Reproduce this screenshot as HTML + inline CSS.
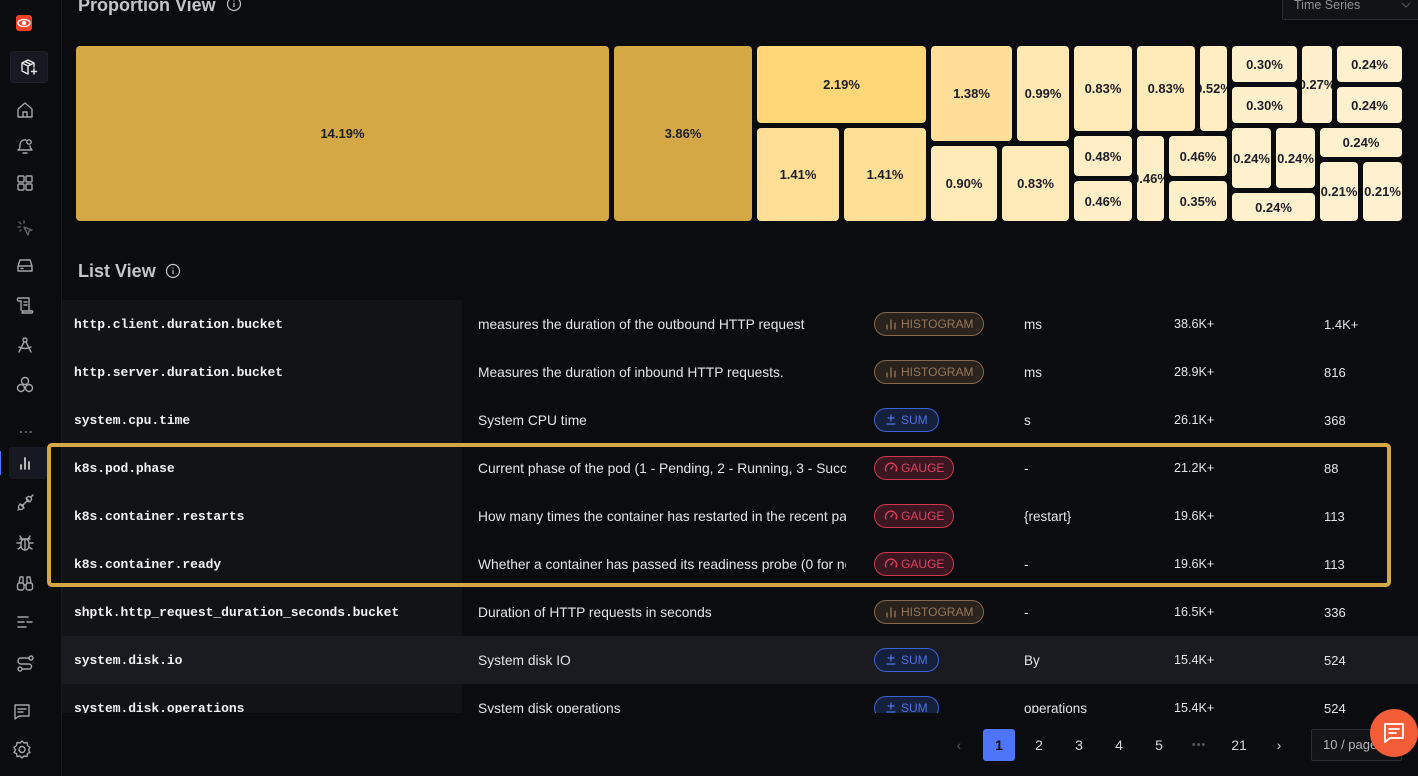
<!DOCTYPE html>
<html lang="en">
<head>
<meta charset="utf-8">
<title>Metrics Explorer</title>
<style>
*{box-sizing:border-box}
html,body{margin:0;padding:0;width:1418px;height:776px;overflow:hidden;background:#0b0c0f;font-family:"Liberation Sans",sans-serif;color:#e8e8e8}
#app{position:relative;width:1418px;height:776px;overflow:hidden}
.abs{position:absolute}
#sidebar{left:0;top:0;width:62px;height:776px;background:#0b0c0e;border-right:1px solid #191a1f}
.ic{position:absolute;width:20px;height:20px;fill:none;stroke:#a3a4a7;stroke-width:1.4;stroke-linecap:round;stroke-linejoin:round}
.sec-title{position:absolute;left:78px;font-size:18px;font-weight:700;color:#c4c5c7;white-space:nowrap;line-height:22px}
.info{position:absolute;width:16px;height:16px;fill:none;stroke:#c4c5c7;stroke-width:1.2}
#treemap{position:absolute;left:76px;top:46px;width:1331px;height:180px}
.tile{position:absolute;border-radius:4px;display:flex;align-items:center;justify-content:center;overflow:hidden;font-size:13px;font-weight:700;color:#1d1f27;white-space:nowrap}
#table{position:absolute;left:62px;top:300px;width:1356px;height:413px;overflow:hidden}
#first-col-bg{position:absolute;left:0;top:0;width:400px;height:413px;background:#121317}
.row{position:absolute;left:0;width:1356px;height:48px;font-size:13px;line-height:49px;white-space:nowrap}
.row.hover{background:#1a1b20}
.name{position:absolute;left:12px;top:0;font-family:"Liberation Mono",monospace;font-weight:700;font-size:13px;letter-spacing:-.06px;color:#f2f2f2}
.desc{position:absolute;left:416px;top:0;width:368px;overflow:hidden;color:#e4e4e4;font-size:13.8px}
.unit{position:absolute;left:962px;top:0;color:#e4e4e4;font-size:13.5px}
.samples{position:absolute;left:1112px;top:0;color:#e4e4e4;font-size:12.6px}
.series{position:absolute;left:1262px;top:0;color:#e4e4e4}
.pill{position:absolute;left:812px;top:12px;height:24px;border-radius:12px;border:1px solid;font-size:12px;line-height:22px;white-space:nowrap}
.pill svg{position:absolute;left:9px;top:4px;width:14px;height:14px;fill:none;stroke:currentColor;stroke-width:1.3;stroke-linecap:round}
.pill span{position:absolute;left:26px;top:0}
.histogram{width:110px;background:#2a231d;border-color:#86694c;color:#97775a}
.sum{width:65px;background:#15203c;border-color:#3c62d6;color:#4f73e3}
.gauge{width:80px;background:#391620;border-color:#d4354f;color:#e2405c}
#highlight{position:absolute;left:47px;top:443px;width:1344px;height:144px;border:4.5px solid #d4a945;border-radius:5px}
.pg{position:absolute;top:729px;width:32px;height:32px;line-height:32px;text-align:center;font-size:14px;color:#d8d8d8}
</style>
</head>
<body>
<div id="app">

  <div id="sidebar" class="abs">
    <div class="abs" style="left:16px;top:15px;width:16px;height:16px;border-radius:3px;background:#f2402c">
      <svg width="16" height="16" viewBox="0 0 16 16" style="display:block"><ellipse cx="8" cy="8" rx="6" ry="3.6" fill="none" stroke="#fff" stroke-width="1.4"/><circle cx="8" cy="8" r="2.2" fill="#fff"/></svg>
    </div>
    <div class="abs" style="left:10px;top:51px;width:38px;height:32px;background:#161922;border:1px solid #1e2029;border-radius:3px"></div>
    <svg class="ic" viewBox="0 0 20 20" style="left:19px;top:57px;stroke:#e8e8e8"><path d="M3 6l6-3 6 3v4M3 6v8l6 3M3 6l6 3 6-3M9 9v8M6 4.5l6 3"/><path d="M15 12v5M12.500 14.500h5"/></svg>
    <svg class="ic" viewBox="0 0 20 20" style="left:15px;top:100px"><path d="M3 9l7-6 7 6v8H3zM8 17v-5h4v5"/></svg>
    <svg class="ic" viewBox="0 0 20 20" style="left:15px;top:136px"><path d="M3 14c2-1 2-3 2-6a5 5 0 0 1 6-4M15 10c0 2 1 3 2 4H3M8 17h4"/><circle cx="14" cy="6" r="2.200"/></svg>
    <svg class="ic" viewBox="0 0 20 20" style="left:15px;top:173px"><rect x="3" y="3" width="6" height="6" rx="1"/><rect x="11" y="3" width="6" height="6" rx="1"/><rect x="3" y="11" width="6" height="6" rx="1"/><rect x="11" y="11" width="6" height="6" rx="1"/></svg>
    <svg class="ic" viewBox="0 0 20 20" style="left:15px;top:218px;stroke:#5f616b"><path d="M9 9l8 3-3 1-1 4zM4 4l2 2M9 3v2M3 9h2M5 13l1-1"/></svg>
    <svg class="ic" viewBox="0 0 20 20" style="left:15px;top:255px"><path d="M3 11l2-6h10l2 6v5H3zM3 11h14M6 13.500h2"/></svg>
    <svg class="ic" viewBox="0 0 20 20" style="left:15px;top:295px"><path d="M3 3h11v13M3 3c-1 1-1 3 1 3h2M6 6v9M14 16H7c1 1 1 2 0 2h10c1-1 1-2 0-2h-3M9 7h3M9 10h3"/></svg>
    <svg class="ic" viewBox="0 0 20 20" style="left:15px;top:335px"><circle cx="10" cy="5" r="2"/><path d="M9 7l-5 10M11 7l5 10M4 12c4 2 8 2 12 0"/></svg>
    <svg class="ic" viewBox="0 0 20 20" style="left:15px;top:375px"><circle cx="10" cy="6" r="3.500"/><circle cx="6" cy="13" r="3.500"/><circle cx="14" cy="13" r="3.500"/></svg>
    <div class="abs" style="left:19px;top:420px;color:#5f616b;font-size:14px;font-weight:700;letter-spacing:1px">...</div>
    <div class="abs" style="left:0;top:451px;width:1px;height:24px;background:#4e74f8"></div>
    <div class="abs" style="left:9px;top:447px;width:38px;height:32px;background:#161922;border-radius:3px"></div>
    <svg class="ic" viewBox="0 0 20 20" style="left:15px;top:453px;stroke:#c8c8c8;stroke-width:1.8"><path d="M6 16v-4M10 16V5M14 16V9"/></svg>
    <svg class="ic" viewBox="0 0 20 20" style="left:15px;top:493px"><circle cx="6" cy="14" r="2.500"/><circle cx="14" cy="6" r="2.500"/><path d="M8 12l4-4M3 17l1-1M16 4l2-2M5 11l4 4M11 5l4 4"/></svg>
    <svg class="ic" viewBox="0 0 20 20" style="left:15px;top:533px"><rect x="6" y="6" width="8" height="11" rx="4"/><path d="M7 6l-2-3M13 6l2-3M6 10H2M14 10h4M6 14l-3 2M14 14l3 2M10 7v10M5 6h10"/></svg>
    <svg class="ic" viewBox="0 0 20 20" style="left:15px;top:573px"><rect x="2.500" y="10" width="6.500" height="7" rx="2"/><rect x="11" y="10" width="6.500" height="7" rx="2"/><path d="M4 10l1-6h3v6M16 10l-1-6h-3v6M9 12h2"/></svg>
    <svg class="ic" viewBox="0 0 20 20" style="left:15px;top:612px"><path d="M3 5h10M3 10h6M12 10h5M3 15h8"/></svg>
    <svg class="ic" viewBox="0 0 20 20" style="left:15px;top:653px"><circle cx="16" cy="5" r="2"/><circle cx="5" cy="16" r="2"/><path d="M14 5H6a3 3 0 0 0 0 6h8a2.500 2.500 0 0 1 0 5H7"/></svg>
    <svg class="ic" viewBox="0 0 20 20" style="left:12px;top:702px"><path d="M3 3h14v11H7l-4 3zM6 7h8M6 10h5"/></svg>
    <svg class="ic" viewBox="0 0 20 20" style="left:12px;top:739px"><path d="M10 2l2 2 3-.5.500 3 2.500 2-1.500 2.500 1.500 2.500-2.500 1-.5 3-3-.5-2 2-2-2-3 .5-.5-3-2.500-1L3.500 11 2 8.500l2.500-2 .5-3 3 .5z"/><circle cx="10" cy="10.500" r="3"/></svg>
  </div>

  <div class="sec-title" style="top:-6px">Proportion View</div>
  <svg class="info" viewBox="0 0 16 16" style="left:226px;top:-4px"><circle cx="8" cy="8" r="6.500"/><path d="M8 7v4M8 4.500v1"/></svg>

  <div class="abs" style="left:1282px;top:-14px;width:140px;height:34px;background:#121317;border:1px solid #2b2d34;border-radius:2px">
    <span class="abs" style="left:11px;top:10px;font-size:12.5px;line-height:16px;color:#8f9094">Time Series</span>
    <svg class="abs" width="10" height="6" viewBox="0 0 10 6" style="left:118px;top:15px"><path d="M1 1l4 4 4-4" fill="none" stroke="#55575c" stroke-width="1"/></svg>
  </div>

  <div id="treemap"></div>

  <div class="sec-title" style="top:260px">List View</div>
  <svg class="info" viewBox="0 0 16 16" style="left:165px;top:263px"><circle cx="8" cy="8" r="6.500"/><path d="M8 7v4M8 4.500v1"/></svg>

  <div id="table">
    <div id="first-col-bg"></div>

    <div class="row" style="top:0">
      <span class="name">http.client.duration.bucket</span>
      <span class="desc">measures the duration of the outbound HTTP request</span>
      <span class="pill histogram"><svg viewBox="0 0 14 14"><path d="M3 12V8M7 12V3M11 12V6"/></svg><span>HISTOGRAM</span></span>
      <span class="unit">ms</span>
      <span class="samples">38.6K+</span>
      <span class="series">1.4K+</span>
    </div>
    <div class="row" style="top:48px">
      <span class="name">http.server.duration.bucket</span>
      <span class="desc">Measures the duration of inbound HTTP requests.</span>
      <span class="pill histogram"><svg viewBox="0 0 14 14"><path d="M3 12V8M7 12V3M11 12V6"/></svg><span>HISTOGRAM</span></span>
      <span class="unit">ms</span>
      <span class="samples">28.9K+</span>
      <span class="series">816</span>
    </div>
    <div class="row" style="top:96px">
      <span class="name">system.cpu.time</span>
      <span class="desc">System CPU time</span>
      <span class="pill sum"><svg viewBox="0 0 14 14"><path d="M7 2v6M4 5h6M3 11h8"/></svg><span>SUM</span></span>
      <span class="unit">s</span>
      <span class="samples">26.1K+</span>
      <span class="series">368</span>
    </div>
    <div class="row" style="top:144px">
      <span class="name">k8s.pod.phase</span>
      <span class="desc">Current phase of the pod (1 - Pending, 2 - Running, 3 - Succeeded, 4 - Failed, 5 - Unknown)</span>
      <span class="pill gauge"><svg viewBox="0 0 14 14"><path d="M2 10a5.500 5.500 0 1 1 10 0M7 8l2-3"/></svg><span>GAUGE</span></span>
      <span class="unit">-</span>
      <span class="samples">21.2K+</span>
      <span class="series">88</span>
    </div>
    <div class="row" style="top:192px">
      <span class="name">k8s.container.restarts</span>
      <span class="desc">How many times the container has restarted in the recent past</span>
      <span class="pill gauge"><svg viewBox="0 0 14 14"><path d="M2 10a5.500 5.500 0 1 1 10 0M7 8l2-3"/></svg><span>GAUGE</span></span>
      <span class="unit">{restart}</span>
      <span class="samples">19.6K+</span>
      <span class="series">113</span>
    </div>
    <div class="row" style="top:240px">
      <span class="name">k8s.container.ready</span>
      <span class="desc">Whether a container has passed its readiness probe (0 for no, 1 for yes)</span>
      <span class="pill gauge"><svg viewBox="0 0 14 14"><path d="M2 10a5.500 5.500 0 1 1 10 0M7 8l2-3"/></svg><span>GAUGE</span></span>
      <span class="unit">-</span>
      <span class="samples">19.6K+</span>
      <span class="series">113</span>
    </div>
    <div class="row" style="top:288px">
      <span class="name">shptk.http_request_duration_seconds.bucket</span>
      <span class="desc">Duration of HTTP requests in seconds</span>
      <span class="pill histogram"><svg viewBox="0 0 14 14"><path d="M3 12V8M7 12V3M11 12V6"/></svg><span>HISTOGRAM</span></span>
      <span class="unit">-</span>
      <span class="samples">16.5K+</span>
      <span class="series">336</span>
    </div>
    <div class="row hover" style="top:336px">
      <span class="name">system.disk.io</span>
      <span class="desc">System disk IO</span>
      <span class="pill sum"><svg viewBox="0 0 14 14"><path d="M7 2v6M4 5h6M3 11h8"/></svg><span>SUM</span></span>
      <span class="unit">By</span>
      <span class="samples">15.4K+</span>
      <span class="series">524</span>
    </div>
    <div class="row" style="top:384px">
      <span class="name">system.disk.operations</span>
      <span class="desc">System disk operations</span>
      <span class="pill sum"><svg viewBox="0 0 14 14"><path d="M7 2v6M4 5h6M3 11h8"/></svg><span>SUM</span></span>
      <span class="unit">operations</span>
      <span class="samples">15.4K+</span>
      <span class="series">524</span>
    </div>
  </div>

  <div id="highlight"></div>

  <div class="pg" style="left:943px;color:#55575c">&#8249;</div>
  <div class="pg" style="left:983px;background:#4e74f8;border-radius:3px;color:#0b0c0f;font-weight:700">1</div>
  <div class="pg" style="left:1023px">2</div>
  <div class="pg" style="left:1063px">3</div>
  <div class="pg" style="left:1103px">4</div>
  <div class="pg" style="left:1143px">5</div>
  <div class="pg" style="left:1183px;color:#55575c;letter-spacing:1px;font-size:11px">&#8226;&#8226;&#8226;</div>
  <div class="pg" style="left:1223px">21</div>
  <div class="pg" style="left:1263px">&#8250;</div>
  <div class="abs" style="left:1311px;top:729px;width:91px;height:32px;background:#121317;border:1px solid #2b2d34;border-radius:2px;font-size:13px;line-height:30px;padding-left:11px;color:#b4b5b8">10 / page</div>

  <div class="abs" style="left:1370px;top:709px;width:48px;height:48px;border-radius:24px;background:#f25c36">
    <svg width="24" height="24" viewBox="0 0 24 24" style="position:absolute;left:12px;top:12px" fill="none" stroke="#fff" stroke-width="1.8" stroke-linejoin="round" stroke-linecap="round"><path d="M3 3h18v14H8l-5 4zM7 8h10M7 12h7"/></svg>
  </div>
</div>

<script>
// Printed share of samples for each treemap tile, largest first.
var tilePercents = [14.19, 3.86, 2.19, 1.41, 1.41, 1.38, 0.99, 0.90, 0.83, 0.83, 0.83, 0.52, 0.48, 0.46, 0.46, 0.46, 0.35, 0.30, 0.30, 0.27, 0.24, 0.24, 0.24, 0.24, 0.24, 0.24, 0.21, 0.21];

// Tile nesting: "i" = index into tilePercents, "b" = relative weight adjustment of a group or tile.
var tileTree = {dir: 'row', kids: [
  {i: 0},
  {i: 1, b: 0.977},
  {dir: 'col', b: 0.886, kids: [
    {i: 2, b: 1.077},
    {dir: 'row', kids: [{i: 3}, {i: 4}]}
  ]},
  {dir: 'col', b: 1.017, kids: [
    {dir: 'row', b: 0.83, kids: [{i: 5, b: 1.082}, {i: 6}]},
    {dir: 'row', kids: [{i: 7, b: 0.909}, {i: 8}]}
  ]},
  {dir: 'col', b: 0.865, kids: [
    {dir: 'row', b: 1.157, kids: [{i: 9}, {i: 10}, {i: 11, b: 0.81}]},
    {dir: 'row', kids: [
      {dir: 'col', kids: [{i: 12}, {i: 13, b: 1.043}]},
      {i: 14, b: 1.06},
      {dir: 'col', b: 1.043, kids: [{i: 15}, {i: 16, b: 1.314}]}
    ]}
  ]},
  {dir: 'col', b: 1.745, kids: [
    {dir: 'row', b: 0.808, kids: [
      {dir: 'col', kids: [{i: 17}, {i: 18}]},
      {i: 19, b: 1.08},
      {dir: 'col', b: 1.25, kids: [{i: 20}, {i: 21}]}
    ]},
    {dir: 'row', kids: [
      {dir: 'col', kids: [
        {dir: 'row', kids: [{i: 22}, {i: 23}]},
        {i: 24}
      ]},
      {dir: 'col', b: 1.115, kids: [
        {i: 25, b: 0.94},
        {dir: 'row', kids: [{i: 26}, {i: 27}]}
      ]}
    ]}
  ]}
]};

var TILE_GAP = 5;
var GOLD_FROM = 3;

function weightOf(node) {
  var own = node.kids ? node.kids.reduce(function (s, k) { return s + weightOf(k); }, 0) : tilePercents[node.i];
  return own * (node.b || 1);
}

function hex(c) {
  return '#' + c.map(function (v) { return ('0' + Math.round(v).toString(16)).slice(-2); }).join('');
}

function colorScale(p) {
  if (p >= GOLD_FROM) return '#d4a945';
  var stops = [[0.2, [255, 241, 207]], [0.9, [255, 234, 184]], [1.4, [255, 222, 150]], [2.19, [255, 214, 120]]];
  if (p <= stops[0][0]) return hex(stops[0][1]);
  for (var s = 1; s < stops.length; s++) {
    if (p <= stops[s][0]) {
      var t = (p - stops[s - 1][0]) / (stops[s][0] - stops[s - 1][0]);
      return hex(stops[s - 1][1].map(function (v, j) { return v + (stops[s][1][j] - v) * t; }));
    }
  }
  return hex(stops[stops.length - 1][1]);
}

function layout(node, x, y, w, h, host) {
  if (!node.kids) {
    var pct = tilePercents[node.i];
    var el = document.createElement('div');
    el.className = 'tile';
    
    
    var x0 = Math.round(x), y0 = Math.round(y), x1 = Math.round(x + w) - TILE_GAP, y1 = Math.round(y + h) - TILE_GAP;
    el.style.left = x0 + 'px';
    el.style.top = y0 + 'px';
    el.style.width = (x1 - x0) + 'px';
    el.style.height = (y1 - y0) + 'px';
    el.style.background = colorScale(pct);
    el.textContent = pct.toFixed(2) + '%';
    host.appendChild(el);
    return;
  }
  var total = node.kids.reduce(function (s, k) { return s + weightOf(k); }, 0);
  var offset = 0;
  node.kids.forEach(function (k) {
    var share = weightOf(k) / total;
    if (node.dir === 'row') {
      layout(k, x + offset, y, w * share, h, host);
      offset += w * share;
    } else {
      layout(k, x, y + offset, w, h * share, host);
      offset += h * share;
    }
  });
}

layout(tileTree, 0, 0, 1331, 180, document.getElementById('treemap'));
</script>
</body>
</html>
